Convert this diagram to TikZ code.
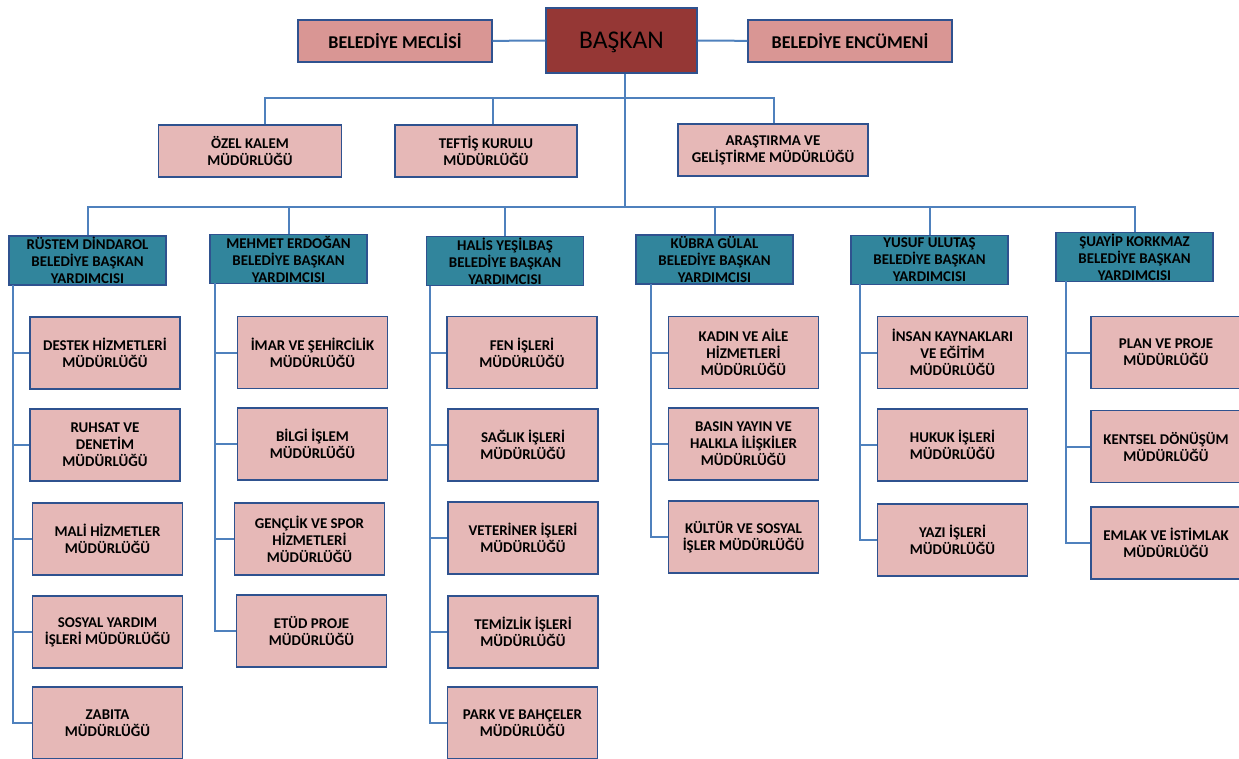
\documentclass[tikz,border=0pt]{standalone}
\usepackage{fontspec}
\setmainfont{Carlito}
\definecolor{linkblue}{HTML}{4F81BD}
\definecolor{edgeblue}{HTML}{2F528F}
\definecolor{unitpink}{HTML}{E6B8B7}
\definecolor{councilpink}{HTML}{D99694}
\definecolor{mayorred}{HTML}{953735}
\definecolor{deputyteal}{HTML}{31859C}
\tikzset{
  box/.style={draw=edgeblue, line width=1.4pt, align=center, inner sep=0pt,
    font=\fontsize{14.9}{17}\selectfont\bfseries},
  council/.style={box, fill=councilpink, minimum height=42pt,
    font=\fontsize{18}{20}\selectfont\bfseries},
  mayor/.style={box, fill=mayorred, minimum width=151pt, minimum height=65pt,
    text depth=0pt, font=\fontsize{25.5}{28}\selectfont},
  staff/.style={box, fill=unitpink, minimum height=52pt},
  deputy/.style={box, fill=deputyteal, minimum width=157pt, minimum height=49pt},
  unit/.style={box, fill=unitpink, minimum width=150pt, minimum height=72pt},
  link/.style={draw=linkblue, line width=2pt}
}
\begin{document}
\begin{tikzpicture}[x=1pt,y=-1pt]
\useasboundingbox (0,0) rectangle (1239,758);
\clip (0,0) rectangle (1239,758);
% top row
\node[mayor] (baskan) at (621.5,40.5) {BAŞKAN};
\node[council, minimum width=194pt] (meclis) at (395,41) {BELEDİYE MECLİSİ};
\node[council, minimum width=204pt] (encumen) at (850,41) {BELEDİYE ENCÜMENİ};
% staff offices
\node[staff, minimum width=183pt] (ozel) at (250,151) {ÖZEL KALEM\\MÜDÜRLÜĞÜ};
\node[staff, minimum width=182pt] (teftis) at (486,151) {TEFTİŞ KURULU\\MÜDÜRLÜĞÜ};
\node[staff, minimum width=190pt] (arge) at (773,150) {ARAŞTIRMA VE\\GELİŞTİRME MÜDÜRLÜĞÜ};
% deputies
\node[deputy] (rustem) at (87.5,260.5) {RÜSTEM DİNDAROL\\BELEDİYE BAŞKAN\\YARDIMCISI};
\node[deputy] (mehmet) at (288.5,259) {MEHMET ERDOĞAN\\BELEDİYE BAŞKAN\\YARDIMCISI};
\node[deputy] (halis) at (505,261) {HALİS YEŞİLBAŞ\\BELEDİYE BAŞKAN\\YARDIMCISI};
\node[deputy] (kubra) at (714.5,259.5) {KÜBRA GÜLAL\\BELEDİYE BAŞKAN\\YARDIMCISI};
\node[deputy] (yusuf) at (929.5,260) {YUSUF ULUTAŞ\\BELEDİYE BAŞKAN\\YARDIMCISI};
\node[deputy] (suayip) at (1134.5,257) {ŞUAYİP KORKMAZ\\BELEDİYE BAŞKAN\\YARDIMCISI};
% units of rustem
\node[unit] (destek) at (105,353) {DESTEK HİZMETLERİ\\MÜDÜRLÜĞÜ};
\node[unit] (ruhsat) at (105,445) {RUHSAT VE\\DENETİM\\MÜDÜRLÜĞÜ};
\node[unit] (mali) at (107.5,539) {MALİ HİZMETLER\\MÜDÜRLÜĞÜ};
\node[unit] (sosyal) at (107.5,632) {SOSYAL YARDIM\\İŞLERİ MÜDÜRLÜĞÜ};
\node[unit] (zabita) at (107.5,723) {ZABITA\\MÜDÜRLÜĞÜ};
% units of mehmet
\node[unit] (imar) at (312.5,352.5) {İMAR VE ŞEHİRCİLİK\\MÜDÜRLÜĞÜ};
\node[unit] (bilgi) at (312.5,444) {BİLGİ İŞLEM\\MÜDÜRLÜĞÜ};
\node[unit] (genclik) at (309.5,539) {GENÇLİK VE SPOR\\HİZMETLERİ\\MÜDÜRLÜĞÜ};
\node[unit] (etud) at (311.5,631) {ETÜD PROJE\\MÜDÜRLÜĞÜ};
% units of halis
\node[unit] (fen) at (522,352.5) {FEN İŞLERİ\\MÜDÜRLÜĞÜ};
\node[unit] (saglik) at (523,445) {SAĞLIK İŞLERİ\\MÜDÜRLÜĞÜ};
\node[unit] (veteriner) at (523,538) {VETERİNER İŞLERİ\\MÜDÜRLÜĞÜ};
\node[unit] (temizlik) at (523,632) {TEMİZLİK İŞLERİ\\MÜDÜRLÜĞÜ};
\node[unit] (park) at (522.5,723) {PARK VE BAHÇELER\\MÜDÜRLÜĞÜ};
% units of kubra
\node[unit] (kadin) at (743.5,352.5) {KADIN VE AİLE\\HİZMETLERİ\\MÜDÜRLÜĞÜ};
\node[unit] (basin) at (743.5,444) {BASIN YAYIN VE\\HALKLA İLİŞKİLER\\MÜDÜRLÜĞÜ};
\node[unit] (kultur) at (743.5,537) {KÜLTÜR VE SOSYAL\\İŞLER MÜDÜRLÜĞÜ};
% units of yusuf
\node[unit] (insan) at (952.5,352.5) {İNSAN KAYNAKLARI\\VE EĞİTİM\\MÜDÜRLÜĞÜ};
\node[unit] (hukuk) at (952.5,445) {HUKUK İŞLERİ\\MÜDÜRLÜĞÜ};
\node[unit] (yazi) at (952.5,540) {YAZI İŞLERİ\\MÜDÜRLÜĞÜ};
% units of suayip
\node[unit] (plan) at (1166,352.5) {PLAN VE PROJE\\MÜDÜRLÜĞÜ};
\node[unit] (kentsel) at (1166,446.5) {KENTSEL DÖNÜŞÜM\\MÜDÜRLÜĞÜ};
\node[unit] (emlak) at (1166,543) {EMLAK VE İSTİMLAK\\MÜDÜRLÜĞÜ};
% bus points
\coordinate (staffbus) at (625,98);
\coordinate (staffL) at (265,98);
\coordinate (staffM) at (493,98);
\coordinate (staffR) at (774,98);
\coordinate (depbus) at (625,207);
\coordinate (spineA) at (13,285);
\coordinate (spineB) at (215,283);
\coordinate (spineC) at (430,286);
\coordinate (spineD) at (651,284);
\coordinate (spineE) at (860,284);
\coordinate (spineF) at (1066,281);
% connectors
\draw[link] (meclis) -- (baskan) -- (encumen);
\draw[link] (baskan.south -| staffbus) -- (depbus);
\draw[link] (ozel.north -| staffL) -- (staffL) -- (staffR) -- (arge.north -| staffR);
\draw[link] (staffM) -- (teftis.north -| staffM);
\draw[link] (rustem.north) |- (depbus) -| (suayip.north);
\draw[link] (mehmet.north) -- (mehmet.north |- depbus);
\draw[link] (halis.north) -- (halis.north |- depbus);
\draw[link] (kubra.north) -- (kubra.north |- depbus);
\draw[link] (yusuf.north) -- (yusuf.north |- depbus);
\draw[link] (spineA) |- (destek.west) (spineA) |- (ruhsat.west) (spineA) |- (mali.west)
  (spineA) |- (sosyal.west) (spineA) |- (zabita.west);
\draw[link] (spineB) |- (imar.west) (spineB) |- (bilgi.west) (spineB) |- (genclik.west)
  (spineB) |- (etud.west);
\draw[link] (spineC) |- (fen.west) (spineC) |- (saglik.west) (spineC) |- (veteriner.west)
  (spineC) |- (temizlik.west) (spineC) |- (park.west);
\draw[link] (spineD) |- (kadin.west) (spineD) |- (basin.west) (spineD) |- (kultur.west);
\draw[link] (spineE) |- (insan.west) (spineE) |- (hukuk.west) (spineE) |- (yazi.west);
\draw[link] (spineF) |- (plan.west) (spineF) |- (kentsel.west) (spineF) |- (emlak.west);
\end{tikzpicture}
\end{document}
